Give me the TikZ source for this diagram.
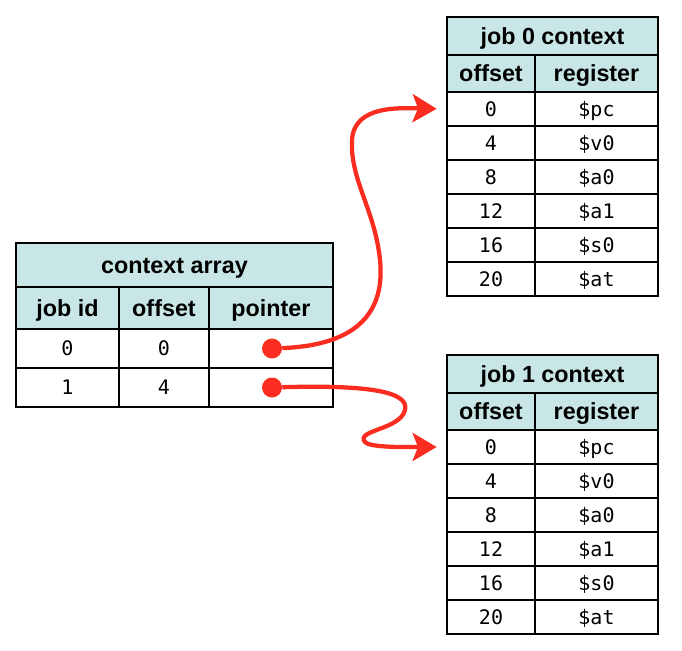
\documentclass[tikz,border=0pt]{standalone}
\usepackage{fontspec}
\setmainfont{Liberation Sans}
\setmonofont{DejaVu Sans Mono}
\usetikzlibrary{arrows.meta}
\definecolor{headblue}{RGB}{200,230,230}
\definecolor{ptrred}{RGB}{250,45,32}

\begin{document}
\begin{tikzpicture}
    [x=0.75pt, y=-0.75pt,
     cell/.style 2 args={draw, line width=1.5pt, inner sep=0pt,
       minimum width=#1*0.75pt, minimum height=#2*0.75pt},
     head/.style={fill=headblue, font=\fontsize{17.5}{20}\selectfont\bfseries,
       text height=12.6pt, text depth=0pt},
     val/.style={font=\fontsize{15}{18}\selectfont\ttfamily,
       text height=10.9pt, text depth=0pt},
     dot/.style={circle, fill=ptrred, inner sep=0pt, minimum size=15pt},
     ptr/.style={ptrred, line width=3.2pt, shorten >=7pt,
       -{Stealth[length=18pt, width=21pt, inset=4pt]}}]

    \useasboundingbox (0,0) rectangle (682,650);

    % context array
    \node[cell={317}{44}, head] (ctx) at (174.5,265) {context array};
    \node[cell={103}{42}, head] (ctx-idh) at (67.5,308) {job id};
    \node[cell={90}{42}, head] (ctx-offh) at (164,308) {offset};
    \node[cell={124}{42}, head] (ctx-ptrh) at (271,308) {pointer};

    \foreach \id/\off/\y in {0/0/348.5, 1/4/387.5}
    {
      \node[cell={103}{39}, val] (ctx-id\id) at (67.5,\y) {\id};
      \node[cell={90}{39}, val] (ctx-off\id) at (164,\y) {\off};
      \node[cell={124}{39}] (ctx-ptr\id) at (271,\y) {};
      \node[dot] (dot\id) at (272,\y) {};
    }

    % job contexts
    \foreach \j/\ytop in {0/17, 1/355}
    {
      \node[cell={211}{37.5}, head] (job\j) at (552.5,\ytop+18.75) {job \j{} context};
      \node[cell={88}{37.5}, head] (job\j-offh) at (491,\ytop+56.25) {offset};
      \node[cell={123}{37.5}, head] (job\j-regh) at (596.5,\ytop+56.25) {register};
      \foreach \off/\reg [count=\row] in {0/pc, 4/v0, 8/a0, 12/a1, 16/s0, 20/at}
      {
        \node[cell={88}{34}, val] (job\j-off\row) at (491,\ytop+58+34*\row) {\off};
        \node[cell={123}{34}, val] (job\j-reg\row) at (596.5,\ytop+58+34*\row) {\$\reg};
      }
    }

    % pointers
    \draw[ptr] (dot0) .. controls (360,345) and (385,310) .. (380,260)
      .. controls (375,210) and (350,180) .. (352,140)
      .. controls (354,105) and (400,108) .. (job0-off1.west);
    \draw[ptr] (dot1) .. controls (360,385) and (410,390) .. (405,410)
      .. controls (400,430) and (355,430) .. (365,442)
      .. controls (370,448) and (410,447) .. (job1-off1.west);
\end{tikzpicture}
\end{document}
